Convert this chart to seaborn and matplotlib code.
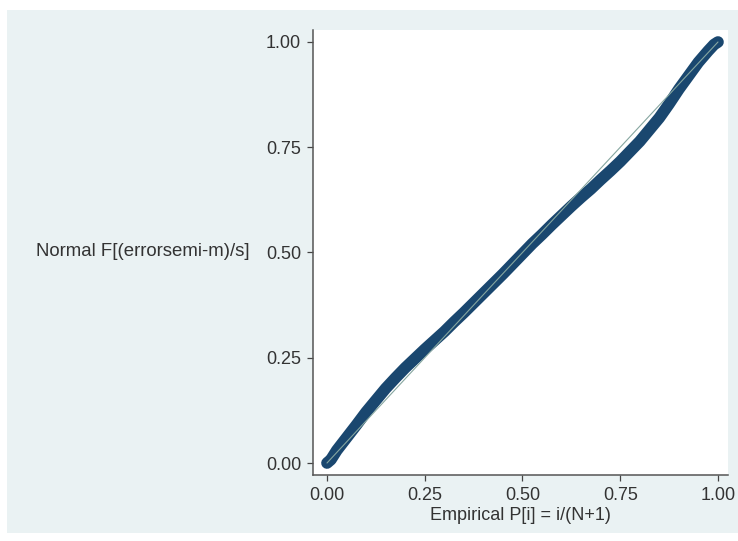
import matplotlib
matplotlib.use("Agg")
import matplotlib.pyplot as plt
from matplotlib.patches import Rectangle
import seaborn as sns
import pandas as pd

# Empirical probabilities i/(N+1) and the matching normal CDF values
empirical_p = [0.000, 0.010, 0.025, 0.050, 0.075, 0.100, 0.125, 0.150, 0.175,
               0.200, 0.225, 0.250, 0.275, 0.300, 0.325, 0.350, 0.375, 0.400,
               0.425, 0.450, 0.475, 0.500, 0.525, 0.550, 0.575, 0.600, 0.625,
               0.650, 0.675, 0.700, 0.725, 0.750, 0.775, 0.800, 0.825, 0.850,
               0.875, 0.900, 0.925, 0.950, 0.975, 0.990, 1.000]
normal_f = [0.000, 0.008, 0.030, 0.060, 0.090, 0.121, 0.149, 0.177, 0.202,
            0.226, 0.248, 0.270, 0.291, 0.312, 0.335, 0.357, 0.380, 0.403,
            0.426, 0.449, 0.473, 0.497, 0.521, 0.543, 0.566, 0.588, 0.610,
            0.631, 0.651, 0.673, 0.694, 0.716, 0.740, 0.764, 0.792, 0.820,
            0.853, 0.888, 0.920, 0.952, 0.979, 0.994, 1.000]

# 45-degree reference line
ref_x = [0.0, 1.0]
ref_y = [0.0, 1.0]

tick_values = [0.00, 0.25, 0.50, 0.75, 1.00]
tick_labels = ["0.00", "0.25", "0.50", "0.75", "1.00"]

x_title = "Empirical P[i] = i/(N+1)"
y_title = "Normal F[(errorsemi-m)/s]"

sns.set_theme(style="white")
plt.rcParams["font.family"] = ["Liberation Sans", "DejaVu Sans"]

W, H = 738, 541
fig = plt.figure(figsize=(W / 100, H / 100), dpi=100, facecolor="white")

# light bluish-gray graph region
bg_left, bg_right, bg_top, bg_bottom = 7, 738, 10, 533
fig.patches.append(Rectangle((bg_left / W, (H - bg_bottom) / H),
                             (bg_right - bg_left) / W, (bg_bottom - bg_top) / H,
                             transform=fig.transFigure, facecolor="#EAF2F3",
                             edgecolor="none", zorder=-10))

ax_l, ax_r, ax_t, ax_b = 313, 728, 30, 475
ax = fig.add_axes([ax_l / W, (H - ax_b) / H, (ax_r - ax_l) / W, (ax_b - ax_t) / H])
ax.set_zorder(5)
ax.set_facecolor("white")

df = pd.DataFrame({"p": empirical_p, "f": normal_f})
sns.lineplot(data=df, x="p", y="f", ax=ax, color="#1a476f", linewidth=8.4,
             sort=False, solid_capstyle="round", solid_joinstyle="round", zorder=2)
sns.lineplot(x=ref_x, y=ref_y, ax=ax, color="#86a6a0", linewidth=0.8, zorder=3)

ax.set_xlim(-0.0358, 1.0256)
ax.set_ylim(-0.0285, 1.0285)
ax.set_xticks(tick_values)
ax.set_xticklabels(tick_labels)
ax.set_yticks(tick_values)
ax.set_yticklabels(tick_labels)

txt = "#333333"
fs = 13
ax.tick_params(axis="both", which="major", direction="out", length=4, width=0.9,
               color="#444444", labelsize=fs, labelcolor=txt, pad=4.5,
               bottom=True, left=True)
ax.tick_params(axis="x", pad=5)

for side in ["top", "right"]:
    ax.spines[side].set_visible(False)
for side in ["left", "bottom"]:
    ax.spines[side].set_color("#555555")
    ax.spines[side].set_linewidth(1.1)

ax.set_xlabel(x_title, fontsize=fs, color=txt, va="center")
ax.xaxis.set_label_coords(0.5, (ax_b - 515) / (ax_b - ax_t))
ax.set_ylabel(y_title, fontsize=fs + 0.4, color=txt, rotation=0, ha="right", va="center")
ax.yaxis.set_label_coords((250 - ax_l) / (ax_r - ax_l), (ax_b - 252) / (ax_b - ax_t))

fig.savefig("out.png", dpi=100, facecolor="white")
